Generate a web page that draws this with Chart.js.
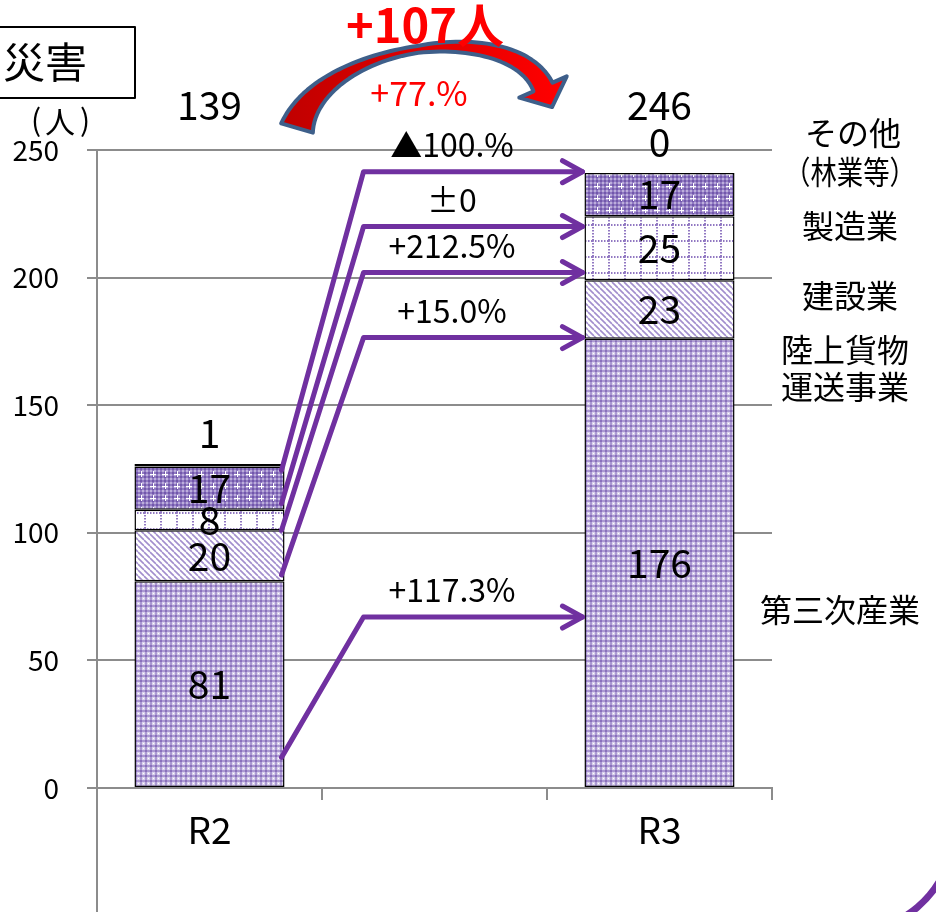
<!DOCTYPE html>
<html>
<head>
<meta charset="utf-8">
<script src="https://cdn.jsdelivr.net/npm/chart.js@4/dist/chart.umd.min.js"></script>
<style>
  html, body { margin: 0; padding: 0; background: #fff; }
  canvas { display: block; }
</style>
</head>
<body>
<canvas id="grafico" width="936" height="912"></canvas>
<script>
// datos
const categories = ["R2", "", "R3"];
const seriesNames = ["第三次産業", "陸上貨物運送事業", "建設業", "製造業", "その他（林業等）"];
const tertiary = [81, null, 176];
const landTransport = [20, null, 23];
const construction = [8, null, 25];
const manufacturing = [17, null, 17];
const others = [1, null, 0];
const totals = [139, null, 246];
const yMin = 0, yMax = 250, yStep = 50;
// flechas R2 -> R3 (valores del eje Y)
const arrowFrom = [124.5, 111.5, 101, 83.5, 12];
const arrowTo = [241.5, 220, 202, 176.5, 67];
const arrowText = ["▲100.%", "±0", "+212.5%", "+15.0%", "+117.3%"];
const diffText = "+107人";
const diffPct = "+77.%";

const FONT = "'Noto Sans CJK JP', 'Noto Sans', sans-serif";
const PURPLE = "#7030A0";

function makePattern(size, draw) {
    const c = document.createElement("canvas");
    c.width = size; c.height = size;
    const g = c.getContext("2d");
    draw(g, size);
    return g.createPattern(c, "repeat");
}

// tramas tipo Excel
const plaidLight = makePattern(5, (g) => {
    g.fillStyle = "#d9d0ec"; g.fillRect(0, 0, 5, 5);
    g.fillStyle = "#ab98d2"; g.fillRect(0, 0, 2, 5); g.fillRect(0, 0, 5, 2);
    g.fillStyle = "#8a70bb"; g.fillRect(0, 0, 2, 2);
    g.fillStyle = "#ffffff"; g.fillRect(3, 3, 1, 1);
});
const stripes = makePattern(6, (g) => {
    g.fillStyle = "#ffffff"; g.fillRect(0, 0, 6, 6);
    g.strokeStyle = "#a28ecd"; g.lineWidth = 1.6;
    [-6, 0, 6].forEach(o => {
        g.beginPath(); g.moveTo(o, 0); g.lineTo(o + 6, 6); g.stroke();
    });
});
const dottedGrid = makePattern(16, (g) => {
    g.fillStyle = "#ffffff"; g.fillRect(0, 0, 16, 16);
    g.fillStyle = "#9178c2";
    for (let i = 0; i < 16; i += 3) {
        g.fillRect(0, i, 2, 1.5);
        g.fillRect(i, 0, 1.5, 2);
    }
});
const plaidDark = makePattern(12, (g) => {
    g.fillStyle = "#bcaedb"; g.fillRect(0, 0, 12, 12);
    g.fillStyle = "#9079c2";
    for (let i = 0; i < 12; i += 4) { g.fillRect(i, 0, 2, 12); g.fillRect(0, i, 12, 2); }
    g.fillStyle = "#7258ab";
    for (let i = 0; i < 12; i += 4) for (let j = 0; j < 12; j += 4) g.fillRect(i, j, 2, 2);
    g.fillStyle = "#ffffff";
    g.fillRect(9, 3, 1, 6); g.fillRect(6, 6, 6, 1);
});

const fills = [plaidLight, stripes, dottedGrid, plaidDark, plaidDark];
const values = [tertiary, landTransport, construction, manufacturing, others];

const datasets = values.map((v, i) => ({
    label: seriesNames[i],
    data: v,
    backgroundColor: fills[i],
    borderColor: "#000000",
    borderWidth: 1.5,
    borderSkipped: false,
    barPercentage: 0.667,
    categoryPercentage: 1.0
}));

function drawArrowHead(ctx, x, y, dx, dy, len, half) {
    const l = Math.hypot(dx, dy), ux = dx / l, uy = dy / l;
    ctx.beginPath();
    ctx.moveTo(x - ux * len - uy * half, y - uy * len + ux * half);
    ctx.lineTo(x, y);
    ctx.lineTo(x - ux * len + uy * half, y - uy * len - ux * half);
    ctx.stroke();
}

const anotaciones = {
    id: "anotaciones",
    afterDraw(chart) {
        const ctx = chart.ctx;
        const area = chart.chartArea;
        const y = chart.scales.y;
        ctx.save();

        // eje vertical prolongado hacia abajo
        ctx.strokeStyle = "#8c8c8c"; ctx.lineWidth = 2;
        ctx.beginPath(); ctx.moveTo(area.left, area.bottom); ctx.lineTo(area.left, chart.height); ctx.stroke();

        // etiquetas de valor
        ctx.fillStyle = "#000"; ctx.textAlign = "center"; ctx.textBaseline = "middle";
        ctx.font = "39px " + FONT;
        const last = chart.data.datasets.length - 1;
        chart.data.datasets.forEach((ds, i) => {
            chart.getDatasetMeta(i).data.forEach((bar, j) => {
                const v = ds.data[j];
                if (v == null) return;
                if (i === last) ctx.fillText(String(v), bar.x, bar.y - 31);
                else ctx.fillText(String(v), bar.x, (bar.y + bar.base) / 2);
            });
        });
        // totales
        const meta0 = chart.getDatasetMeta(0);
        totals.forEach((t, j) => {
            if (t == null) return;
            ctx.fillText(String(t), meta0.data[j].x, area.top - 45);
        });

        // flechas moradas
        const r2 = meta0.data[0], r3 = meta0.data[2];
        const x0 = r2.x + r2.width / 2 - 3;
        const xe = r3.x - r3.width / 2;
        ctx.strokeStyle = PURPLE; ctx.lineWidth = 5; ctx.lineCap = "round"; ctx.lineJoin = "round";
        ctx.font = "32px " + FONT;
        arrowFrom.forEach((v, k) => {
            const ys = y.getPixelForValue(v);
            const ye = y.getPixelForValue(arrowTo[k]);
            const xm = x0 + 82;
            ctx.beginPath(); ctx.moveTo(x0, ys); ctx.lineTo(xm, ye); ctx.lineTo(xe - 2, ye); ctx.stroke();
            drawArrowHead(ctx, xe - 2, ye, 1, 0, 20, 11);
            ctx.fillStyle = "#000";
            ctx.fillText(arrowText[k], 452, ye - 27);
        });

        // nombres de categoría a la derecha
        ctx.font = "32px " + FONT;
        ctx.fillStyle = "#000";
        ctx.fillText("その他", 853, 133);
        ctx.fillText("（林業等）", 850, 172, 132);
        ctx.fillText("製造業", 850, 226);
        ctx.fillText("建設業", 850, 296);
        ctx.fillText("陸上貨物", 845, 350);
        ctx.fillText("運送事業", 845, 387);
        ctx.fillText("第三次産業", 840, 610);

        // unidad (人)
        ctx.font = "30px " + FONT;
        ctx.fillText("(", 36, 120);
        ctx.fillText("人", 60, 122);
        ctx.fillText(")", 85, 120);

        // recuadro "災害"
        ctx.lineWidth = 2; ctx.strokeStyle = "#000";
        ctx.strokeRect(-2, 27, 137, 71);
        ctx.textAlign = "left";
        ctx.font = "42px " + FONT;
        ctx.fillText("災害", 3, 62);

        // flecha curva roja
        const P0 = [297, 128], C1 = [322, 42], C2 = [512, 18], P3 = [543, 87];
        const N = 60, left = [], right = [];
        for (let s = 0; s <= N; s++) {
            const t = s / N, m = 1 - t;
            const px = m*m*m*P0[0] + 3*m*m*t*C1[0] + 3*m*t*t*C2[0] + t*t*t*P3[0];
            const py = m*m*m*P0[1] + 3*m*m*t*C1[1] + 3*m*t*t*C2[1] + t*t*t*P3[1];
            const dx = 3*m*m*(C1[0]-P0[0]) + 6*m*t*(C2[0]-C1[0]) + 3*t*t*(P3[0]-C2[0]);
            const dy = 3*m*m*(C1[1]-P0[1]) + 6*m*t*(C2[1]-C1[1]) + 3*t*t*(P3[1]-C2[1]);
            const l = Math.hypot(dx, dy), nx = -dy / l, ny = dx / l;
            const w = t < 0.5 ? 3.5 + 13 * Math.pow(1 - 2 * t, 2) : 3.5 + 7 * (2 * t - 1);
            left.push([px + nx * w, py + ny * w]);
            right.push([px - nx * w, py - ny * w]);
        }
        const ex = P3[0] - C2[0], ey = P3[1] - C2[1], el = Math.hypot(ex, ey);
        const ux = ex / el, uy = ey / el, nx = -uy, ny = ux;
        ctx.beginPath();
        ctx.moveTo(left[0][0], left[0][1]);
        left.forEach(p => ctx.lineTo(p[0], p[1]));
        ctx.lineTo(P3[0] + nx * 26, P3[1] + ny * 26);
        ctx.lineTo(P3[0] + ux * 22, P3[1] + uy * 22);
        ctx.lineTo(P3[0] - nx * 26, P3[1] - ny * 26);
        for (let s = N; s >= 0; s--) ctx.lineTo(right[s][0], right[s][1]);
        ctx.closePath();
        const grad = ctx.createLinearGradient(285, 0, 560, 0);
        grad.addColorStop(0, "#c00000"); grad.addColorStop(1, "#ff0000");
        ctx.fillStyle = grad; ctx.fill();
        ctx.strokeStyle = "#3e5f8a"; ctx.lineWidth = 4; ctx.stroke();

        ctx.textAlign = "center";
        ctx.fillStyle = "#ff0000";
        ctx.font = "bold 47px " + FONT;
        ctx.fillText(diffText, 425, 25);
        ctx.font = "34px " + FONT;
        ctx.fillText(diffPct, 419, 93);

        // arco morado en la esquina
        ctx.strokeStyle = PURPLE; ctx.lineWidth = 7;
        ctx.beginPath(); ctx.arc(850, 828, 104, 0.1 * Math.PI, 0.45 * Math.PI); ctx.stroke();

        ctx.restore();
    }
};

new Chart(document.getElementById("grafico"), {
    type: "bar",
    data: { labels: categories, datasets: datasets },
    options: {
        responsive: false,
        animation: false,
        events: [],
        layout: { padding: { top: 150, right: 164, left: 0, bottom: 0 } },
        plugins: { legend: { display: false }, tooltip: { enabled: false } },
        scales: {
            x: {
                stacked: true,
                afterFit: (s) => { s.height = 124; },
                grid: { offset: true, drawOnChartArea: false, drawTicks: true, tickLength: 12, color: "#8c8c8c", lineWidth: 2 },
                border: { color: "#8c8c8c", width: 2 },
                ticks: { color: "#000", font: { family: FONT, size: 37 }, padding: 8 }
            },
            y: {
                stacked: true,
                min: yMin, max: yMax,
                afterFit: (s) => { s.width = 97; },
                grid: { color: "#8c8c8c", lineWidth: 2, tickLength: 10 },
                border: { color: "#8c8c8c", width: 2 },
                ticks: { stepSize: yStep, color: "#000", font: { family: FONT, size: 28 }, padding: 28 }
            }
        }
    },
    plugins: [anotaciones]
});
</script>
</body>
</html>
